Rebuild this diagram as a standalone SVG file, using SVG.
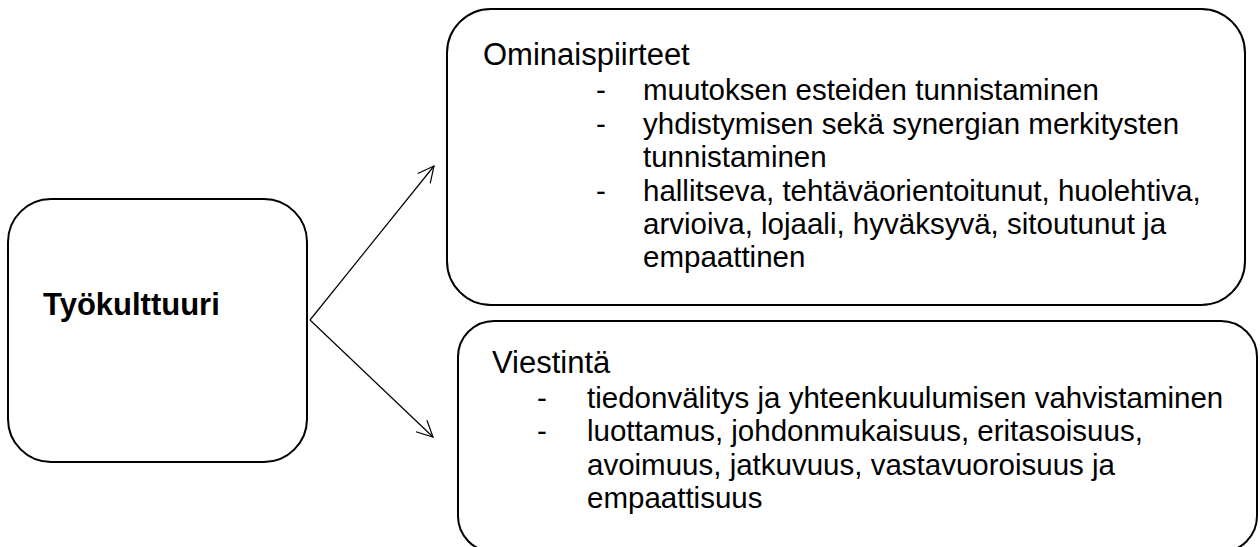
<svg xmlns="http://www.w3.org/2000/svg" width="1260" height="547" viewBox="0 0 1260 547">
<style>
.box{fill:#fff;stroke:#000;stroke-width:2}
.t{font-family:"Liberation Sans",Arial,sans-serif;font-size:29.5px;fill:#000}
.h{font-family:"Liberation Sans",Arial,sans-serif;font-size:31px;fill:#000}
.b{font-family:"Liberation Sans",Arial,sans-serif;font-size:31px;font-weight:bold;fill:#000}
.c{stroke:#000;stroke-width:1.2;fill:none}
</style>
<defs>
<marker id="arr" viewBox="0 0 18 18" refX="17" refY="9" markerWidth="18" markerHeight="18" markerUnits="userSpaceOnUse" orient="auto">
<path d="M1,1 L17,9 L1,17" fill="none" stroke="#000" stroke-width="1.2"/>
</marker>
</defs>
<rect width="1260" height="547" fill="#fff"/>
<g id="tyokulttuuri">
<rect class="box" x="8" y="199" width="299" height="263" rx="43" ry="43"/>
<text class="b" x="43" y="315">Työkulttuuri</text>
</g>
<g id="ominaispiirteet">
<rect class="box" x="447" y="9" width="798" height="296" rx="44" ry="44"/>
<text class="h" x="483" y="65">Ominaispiirteet</text>
<text class="t" x="596" y="100">-</text>
<text class="t" x="643" y="100">muutoksen esteiden tunnistaminen</text>
<text class="t" x="596" y="133.5">-</text>
<text class="t" x="643" y="133.5">yhdistymisen sekä synergian merkitysten</text>
<text class="t" x="643" y="167">tunnistaminen</text>
<text class="t" x="596" y="200.5">-</text>
<text class="t" x="643" y="200.5">hallitseva, tehtäväorientoitunut, huolehtiva,</text>
<text class="t" x="643" y="234">arvioiva, lojaali, hyväksyvä, sitoutunut ja</text>
<text class="t" x="643" y="267">empaattinen</text>
</g>
<g id="viestinta">
<rect class="box" x="458" y="321" width="799" height="231" rx="36" ry="36"/>
<text class="h" x="492" y="373">Viestintä</text>
<text class="t" x="537" y="407.5">-</text>
<text class="t" x="587" y="407.5">tiedonvälitys ja yhteenkuulumisen vahvistaminen</text>
<text class="t" x="537" y="441">-</text>
<text class="t" x="587" y="441">luottamus, johdonmukaisuus, eritasoisuus,</text>
<text class="t" x="587" y="474.5">avoimuus, jatkuvuus, vastavuoroisuus ja</text>
<text class="t" x="587" y="508">empaattisuus</text>
</g>
<g id="connectors">
<line class="c" x1="310" y1="320" x2="434" y2="166" marker-end="url(#arr)"/>
<line class="c" x1="310" y1="320" x2="433" y2="437" marker-end="url(#arr)"/>
</g>
</svg>
